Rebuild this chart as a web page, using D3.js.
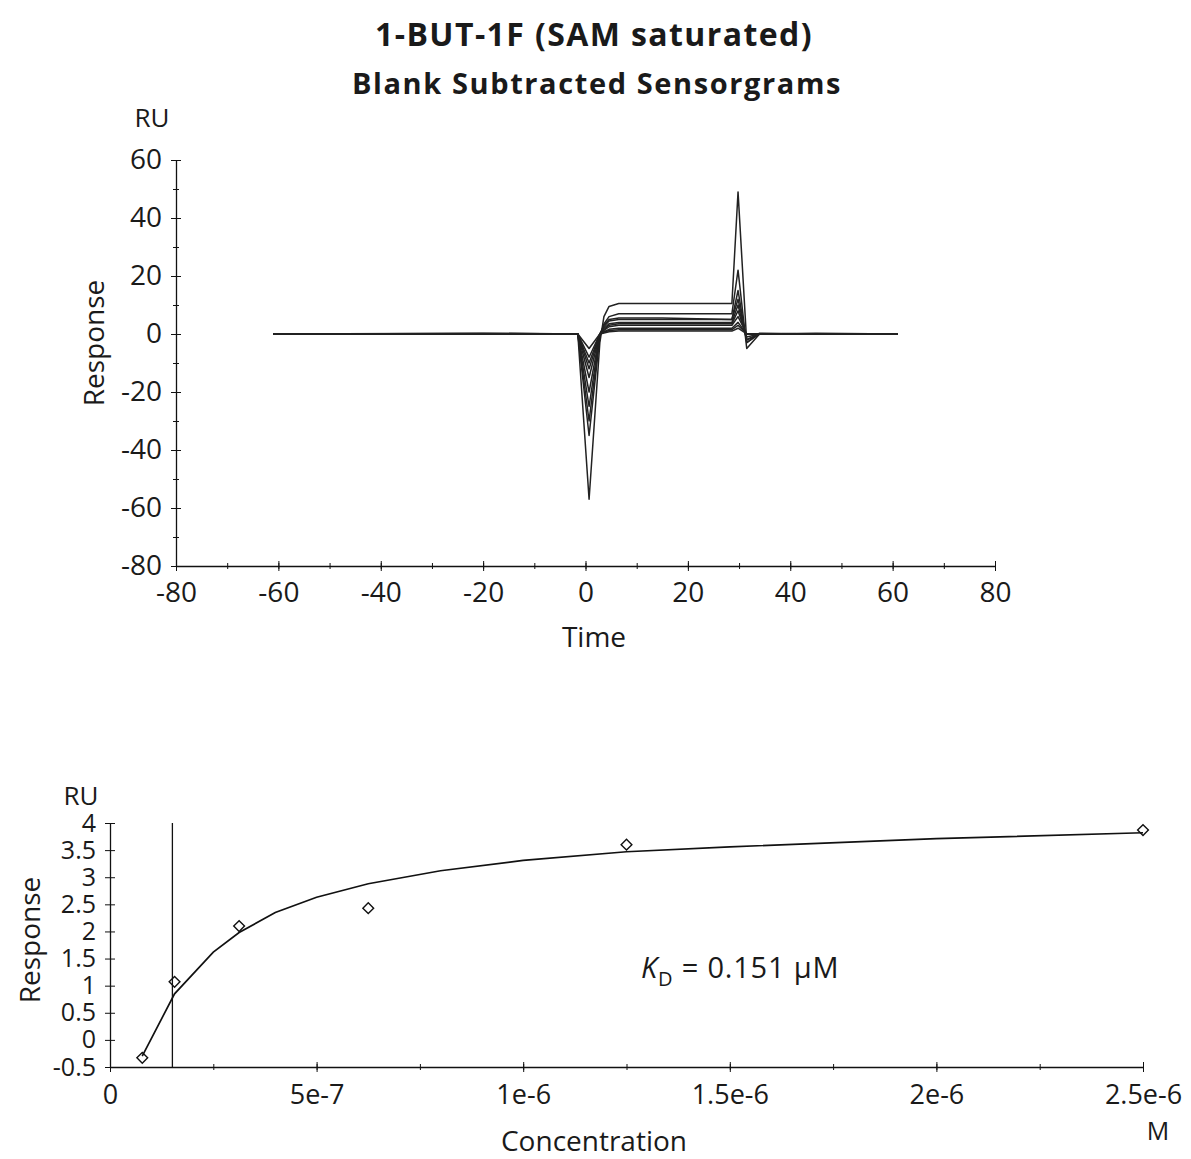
<!DOCTYPE html>
<html><head><meta charset="utf-8">
<script src="https://cdn.jsdelivr.net/npm/d3@7"></script>
<style>
body{margin:0;background:#fff;}
text{font-family:"Open Sans",sans-serif;fill:#1a1a1a;}
</style></head>
<body>
<svg id="chart" width="1191" height="1159"></svg>
<script>
// ---------- Data: sensorgrams (top) ----------
const sensorTimes = [-61, -20, -1.5, 0.7, 2.8, 3.6, 4.6, 6.5, 15, 28.6, 29.8, 31.5, 34, 45, 61];
const sensorSeries = [
  [0, 0.3, 0, -57, -3, 6, 9.5, 10.5, 10.5, 10.5, 49, -3, 0.3, 0, 0],
  [0, 0, 0, -35, -1, 3.5, 6, 7, 7, 7, 22, -5, 0, 0.3, 0],
  [0, 0.2, 0, -30, 0, 3, 5, 5.5, 5.5, 5, 15, -3, 0, 0, 0],
  [0, 0, 0, -25, 0, 2.5, 4.5, 5, 5, 5, 12, -2, 0, 0, 0],
  [0, 0, 0, -20, 0, 2, 3.5, 4, 4, 4, 10, -2, 0, 0, 0],
  [0, 0, 0, -15, 0, 1.5, 3, 3.5, 3.5, 3.5, 8, -1, 0, 0, 0],
  [0, 0, 0, -12, 0, 1.2, 2.5, 3, 3, 3, 6, 0, 0, 0, 0],
  [0, 0, 0, -10, 0, 0.8, 1.6, 2, 2, 2, 4, 0, 0, 0, 0],
  [0, 0, 0, -8, 0, 0.6, 1.2, 1.5, 1.5, 1.5, 3, 0, 0, 0, 0],
  [0, 0, 0, -5, 0, 0.3, 0.8, 1, 1, 1, 2, 0, 0, 0, 0]
];
const topXTicks = [-80, -60, -40, -20, 0, 20, 40, 60, 80];
const topYTicks = [60, 40, 20, 0, -20, -40, -60, -80];

// ---------- Data: affinity (bottom) ----------
const concentrations = [7.8125e-8, 1.5625e-7, 3.125e-7, 6.25e-7, 1.25e-6, 2.5e-6];
const responses = [-0.33, 1.07, 2.1, 2.43, 3.6, 3.87];
const fitConc = [7.8e-8, 1.5625e-7, 2.5e-7, 3.125e-7, 4e-7, 5e-7, 6.25e-7, 8e-7, 1e-6, 1.25e-6, 1.5e-6, 2e-6, 2.5e-6];
const fitResp = [-0.3, 0.85, 1.62, 1.98, 2.35, 2.63, 2.88, 3.12, 3.31, 3.47, 3.56, 3.71, 3.82];
const kdValue = 1.51e-7;
const botXTicks = [0, 5e-7, 1e-6, 1.5e-6, 2e-6, 2.5e-6];
const botXLabels = ["0", "5e-7", "1e-6", "1.5e-6", "2e-6", "2.5e-6"];
const botYTicks = [-0.5, 0, 0.5, 1, 1.5, 2, 2.5, 3, 3.5, 4];
const botYLabels = ["-0.5", "0", "0.5", "1", "1.5", "2", "2.5", "3", "3.5", "4"];

const svg = d3.select("#chart");

// Titles
svg.append("text").attr("x", 594).attr("y", 46).attr("text-anchor", "middle")
  .attr("font-weight", "bold").attr("font-size", 32).attr("letter-spacing", 1.4)
  .text("1-BUT-1F (SAM saturated)");
svg.append("text").attr("x", 597).attr("y", 94).attr("text-anchor", "middle")
  .attr("font-weight", "bold").attr("font-size", 29).attr("letter-spacing", 1.6)
  .text("Blank Subtracted Sensorgrams");

// ---------- Top chart ----------
const x1 = d3.scaleLinear().domain([-80, 80]).range([176, 995]);
const y1 = d3.scaleLinear().domain([-80, 60]).range([566, 160]);

const gTop = svg.append("g");
const xMinor1 = d3.range(-80, 81, 10);
const yMinor1 = d3.range(-80, 61, 10);
gTop.append("g").attr("transform", `translate(0,${y1(-80)})`)
  .call(d3.axisBottom(x1).tickValues(xMinor1).tickSize(3).tickFormat(""))
  .call(g => g.select(".domain").remove())
  .call(g => g.selectAll(".tick line").attr("y1", -3).attr("stroke", "#111"));
gTop.append("g").attr("transform", `translate(${x1(-80)},0)`)
  .call(d3.axisLeft(y1).tickValues(yMinor1).tickSize(3).tickFormat(""))
  .call(g => g.select(".domain").remove())
  .call(g => g.selectAll(".tick line").attr("x1", 3).attr("stroke", "#111"));

const xAx1 = gTop.append("g").attr("transform", `translate(0,${y1(-80)})`)
  .call(d3.axisBottom(x1).tickValues(topXTicks).tickSize(5).tickSizeOuter(0).tickPadding(9)
    .tickFormat(d => String(d)));
xAx1.selectAll(".tick line").attr("y1", -5).attr("stroke", "#111");
xAx1.select(".domain").attr("stroke", "#111").attr("stroke-width", 1.3);
xAx1.selectAll("text").attr("font-size", 28).attr("font-family", "Open Sans").attr("fill", "#1a1a1a").attr("dy", "0.78em");

const yAx1 = gTop.append("g").attr("transform", `translate(${x1(-80)},0)`)
  .call(d3.axisLeft(y1).tickValues(topYTicks).tickSize(5).tickSizeOuter(0).tickPadding(9)
    .tickFormat(d => String(d)));
yAx1.selectAll(".tick line").attr("x1", 5).attr("stroke", "#111");
yAx1.select(".domain").attr("stroke", "#111").attr("stroke-width", 1.3);
yAx1.selectAll("text").attr("font-size", 28).attr("font-family", "Open Sans").attr("fill", "#1a1a1a");

svg.append("text").attr("x", 152).attr("y", 127).attr("text-anchor", "middle").attr("font-size", 26).text("RU");
svg.append("text").attr("transform", "translate(104,343) rotate(-90)").attr("text-anchor", "middle")
  .attr("font-size", 28).text("Response");
svg.append("text").attr("x", 594).attr("y", 647).attr("text-anchor", "middle").attr("font-size", 28).text("Time");

const line1 = d3.line().x((d, i) => x1(sensorTimes[i])).y(d => y1(d));
gTop.append("g").selectAll("path").data(sensorSeries).join("path")
  .attr("d", line1).attr("fill", "none").attr("stroke", "#222").attr("stroke-width", 1.5)
  .attr("stroke-linejoin", "round");

// ---------- Bottom chart ----------
const x2 = d3.scaleLinear().domain([0, 2.5e-6]).range([110, 1143]);
const y2 = d3.scaleLinear().domain([-0.5, 4]).range([1067, 823]);
const gBot = svg.append("g");

gBot.append("g").attr("transform", `translate(0,${y2(-0.5)})`)
  .call(d3.axisBottom(x2).tickValues(d3.range(0, 11).map(i => i * 2.5e-7)).tickSize(3).tickFormat(""))
  .call(g => g.select(".domain").remove())
  .call(g => g.selectAll(".tick line").attr("y1", -3).attr("stroke", "#111"));

const xAx2 = gBot.append("g").attr("transform", `translate(0,${y2(-0.5)})`)
  .call(d3.axisBottom(x2).tickValues(botXTicks).tickSize(5).tickSizeOuter(0).tickPadding(11)
    .tickFormat((d, i) => botXLabels[i]));
xAx2.selectAll(".tick line").attr("y1", -5).attr("stroke", "#111");
xAx2.select(".domain").attr("stroke", "#111").attr("stroke-width", 1.3);
xAx2.selectAll("text").attr("font-size", 27).attr("font-family", "Open Sans").attr("fill", "#1a1a1a").attr("dy", "0.78em");

const yAx2 = gBot.append("g").attr("transform", `translate(${x2(0)},0)`)
  .call(d3.axisLeft(y2).tickValues(botYTicks).tickSize(5).tickSizeOuter(0).tickPadding(9)
    .tickFormat((d, i) => botYLabels[i]));
yAx2.selectAll(".tick line").attr("x1", 5).attr("stroke", "#111");
yAx2.select(".domain").attr("stroke", "#111").attr("stroke-width", 1.3);
yAx2.selectAll("text").attr("font-size", 25).attr("font-family", "Open Sans").attr("fill", "#1a1a1a");

svg.append("text").attr("x", 81).attr("y", 805).attr("text-anchor", "middle").attr("font-size", 26).text("RU");
svg.append("text").attr("transform", "translate(40,940) rotate(-90)").attr("text-anchor", "middle")
  .attr("font-size", 28).text("Response");
svg.append("text").attr("x", 594).attr("y", 1151).attr("text-anchor", "middle").attr("font-size", 28).text("Concentration");
svg.append("text").attr("x", 1158).attr("y", 1140).attr("text-anchor", "middle").attr("font-size", 25).text("M");

// KD vertical line
gBot.append("line").attr("x1", x2(kdValue)).attr("x2", x2(kdValue))
  .attr("y1", y2(4)).attr("y2", y2(-0.5)).attr("stroke", "#111").attr("stroke-width", 1.3);

// fit curve
const line2 = d3.line().x((d, i) => x2(fitConc[i])).y(d => y2(d));
gBot.append("path").datum(fitResp).attr("d", line2).attr("fill", "none")
  .attr("stroke", "#111").attr("stroke-width", 1.7);

// points
const diamond = d3.symbol().type(d3.symbolSquare).size(58);
gBot.append("g").selectAll("path").data(responses).join("path")
  .attr("d", diamond)
  .attr("transform", (d, i) => `translate(${x2(concentrations[i])},${y2(d)}) rotate(45)`)
  .attr("fill", "none").attr("stroke", "#111").attr("stroke-width", 1.4);

// KD label
const kd = svg.append("text").attr("x", 641).attr("y", 978).attr("font-size", 29).attr("letter-spacing", 0.8);
kd.append("tspan").attr("font-style", "italic").text("K");
kd.append("tspan").attr("font-size", 20).attr("dy", 8).text("D");
kd.append("tspan").attr("dy", -8).text(" = 0.151 μM");
</script>
</body></html>
